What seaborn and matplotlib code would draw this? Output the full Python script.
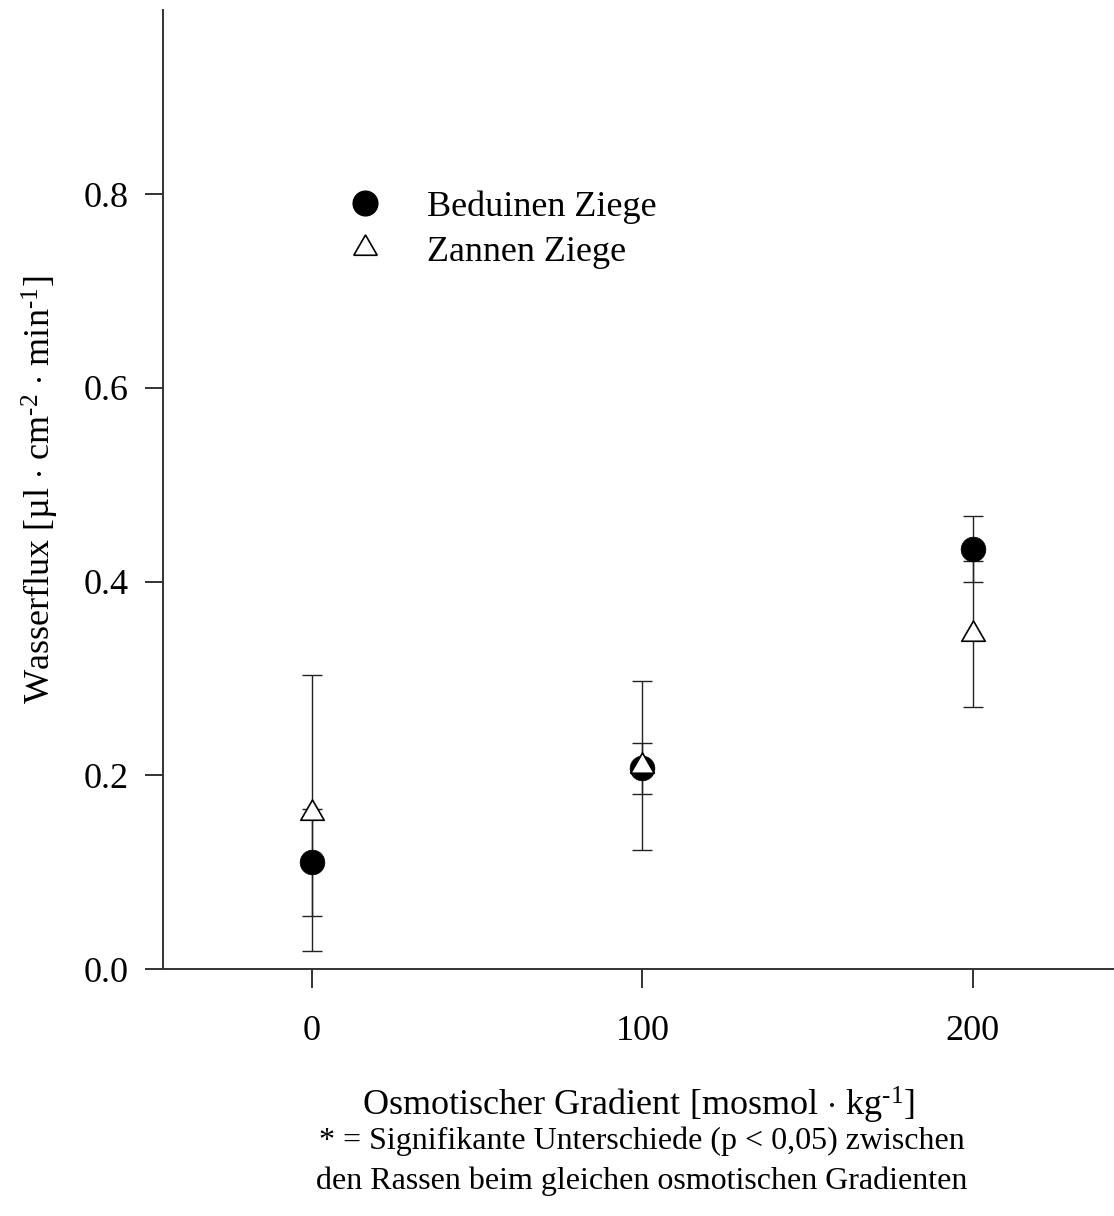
import matplotlib
matplotlib.use("Agg")
import matplotlib.pyplot as plt
import seaborn as sns
import pandas as pd
from matplotlib.lines import Line2D

# ---- data ----
gradient = [0, 100, 200]
bed_mean = [0.110, 0.207, 0.4335]
bed_err = [0.055, 0.026, 0.034]
zan_mean = [0.1615, 0.210, 0.3457]
zan_err = [0.1425, 0.0874, 0.0753]
series_labels = ["Beduinen Ziege", "Zannen Ziege"]
yticks = [0.0, 0.2, 0.4, 0.6, 0.8]
xticks = [0, 100, 200]

sns.set_theme(style="ticks")
plt.rcParams["font.family"] = ["Liberation Serif", "DejaVu Serif"]
plt.rcParams["mathtext.fontset"] = "custom"
plt.rcParams["mathtext.rm"] = "Liberation Serif"
plt.rcParams["mathtext.it"] = "Liberation Serif:italic"
plt.rcParams["text.color"] = "black"
plt.rcParams["axes.labelcolor"] = "black"
plt.rcParams["xtick.color"] = "black"
plt.rcParams["ytick.color"] = "black"

fig = plt.figure(figsize=(11.14, 12.16), dpi=100)
ax = fig.add_axes([163 / 1114, 1 - 969 / 1216, 1 - 163 / 1114, (969 - 10) / 1216])

df_b = pd.DataFrame({"x": gradient, "y": bed_mean})
df_z = pd.DataFrame({"x": gradient, "y": zan_mean})

ecol = "#222222"
ax.errorbar(gradient, bed_mean, yerr=bed_err, fmt="none", ecolor=ecol,
            elinewidth=1.0, capsize=7, capthick=1.0, zorder=2)
ax.errorbar(gradient, zan_mean, yerr=zan_err, fmt="none", ecolor=ecol,
            elinewidth=1.0, capsize=7, capthick=1.0, zorder=2)

sns.scatterplot(data=df_b, x="x", y="y", marker="o", s=17.8 ** 2,
                color="black", edgecolor="black", linewidth=0.5, ax=ax, zorder=3)
sns.scatterplot(data=df_z, x="x", y="y", marker=(3, 0, 0), s=19.5 ** 2,
                color="white", edgecolor="black", linewidth=1.2, ax=ax, zorder=4)

ax.set_xlim(-45.1, 242.7)
ax.set_ylim(0, 0.99)
ax.set_xticks(xticks)
ax.set_xticklabels([str(v) for v in xticks])
ax.set_yticks(yticks)
ax.set_yticklabels([f"{v:.1f}" for v in yticks])

sns.despine(ax=ax)
for sp in ["left", "bottom"]:
    ax.spines[sp].set_linewidth(1.4)
    ax.spines[sp].set_color("#333333")
ax.tick_params(axis="x", direction="out", length=14, width=1.4, color="#333333",
               labelsize=26, pad=19, labelcolor="black")
ax.tick_params(axis="y", direction="out", length=13, width=1.4, color="#333333",
               labelsize=26, pad=12, labelcolor="black")

ax.set_xlabel(r"Osmotischer Gradient [mosmol $\cdot$ kg$^{\text{-1}}$]",
              fontsize=26, labelpad=27)
ax.set_ylabel(r"Wasserflux [µl $\cdot$ cm$^{\text{-2}}$ $\cdot$ min$^{\text{-1}}$]",
              fontsize=26, labelpad=16)

handles = [
    Line2D([], [], linestyle="none", marker="o", markersize=17.8,
           markerfacecolor="black", markeredgecolor="black"),
    Line2D([], [], linestyle="none", marker=(3, 0, 0), markersize=19.5,
           markerfacecolor="white", markeredgecolor="black", markeredgewidth=1.2),
]
ax.legend(handles, series_labels, loc="upper left", frameon=False,
          bbox_to_anchor=(320 / 1114, 1 - 172 / 1216), bbox_transform=fig.transFigure,
          fontsize=26, handletextpad=0.96, labelspacing=0.34, borderpad=0, handlelength=1.5)

fig.text(642 / 1114, 1 - 1161 / 1216,
         "* = Signifikante Unterschiede (p < 0,05) zwischen\nden Rassen beim gleichen osmotischen Gradienten",
         ha="center", va="center", fontsize=23, linespacing=1.45)

fig.savefig("out.png", dpi=100)
